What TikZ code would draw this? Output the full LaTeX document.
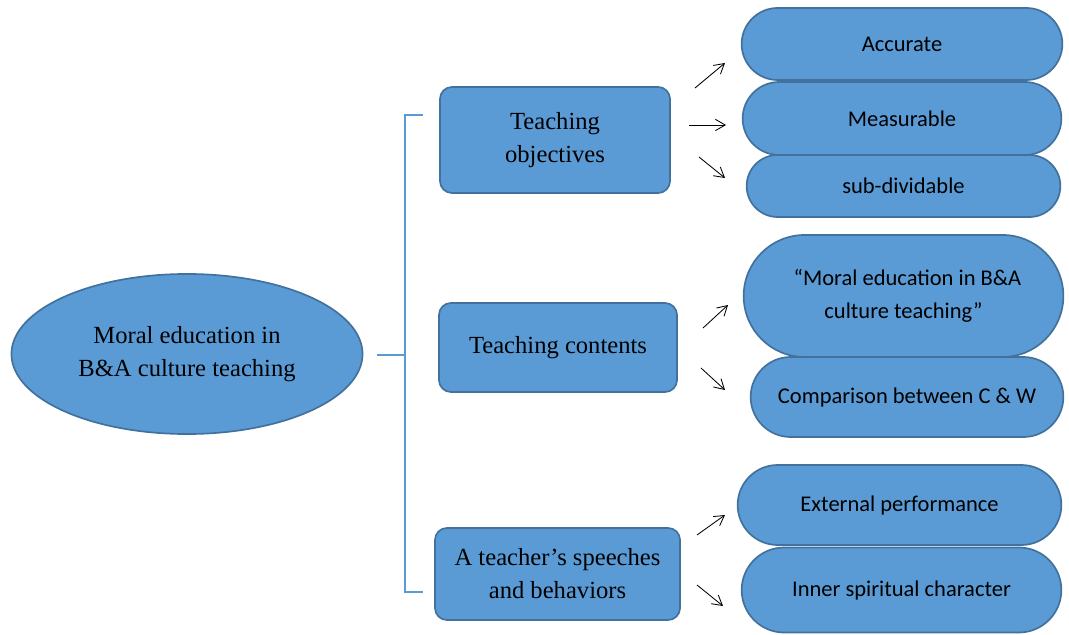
\documentclass[tikz,border=0pt]{standalone}
\usepackage{fontspec}
\setmainfont{Liberation Serif}
\newfontfamily\pillfont{Carlito}
\usepackage{tikz}
\usetikzlibrary{shapes.geometric,shapes.misc,arrows.meta}

\definecolor{boxblue}{HTML}{5B9BD5}
\definecolor{boxedge}{HTML}{41719C}

\tikzset{
	topic/.style={ellipse,draw=boxedge,fill=boxblue,line width=1.2pt,align=center,
		minimum width=8.775cm,minimum height=4cm,font=\fontsize{17.5}{23.5}\selectfont},
	part/.style={rectangle,rounded corners=0.3cm,draw=boxedge,fill=boxblue,line width=1.2pt,
		align=center,font=\fontsize{17.5}{23.5}\selectfont},
	pill/.style={rounded rectangle,draw=boxedge,fill=boxblue,line width=1.2pt,
		align=center,font=\pillfont\fontsize{16}{23.5}\selectfont},
	arr/.style={-{Straight Barb[angle=60:8pt]},line width=0.6pt},
	brace/.style={draw=boxblue,line width=1.4pt}
}

\begin{document}
\begin{tikzpicture}[x=0.025cm,y=-0.025cm]
	\useasboundingbox (0,0) rectangle (1069,635);
	
	% main topic and the three parts
	\node[topic] (moral) at (187,354) {Moral education in\\B\&A culture teaching};
	
	\node[part,minimum width=5.75cm,minimum height=2.65cm] (obj) at (555,140) {Teaching\\objectives};
	\node[part,minimum width=5.95cm,minimum height=2.225cm] (cont) at (558,347.5) {Teaching contents};
	\node[part,minimum width=6.125cm,minimum height=2.3cm] (beh) at (557.5,574) {A teacher’s speeches\\and behaviors};
	
	% brace
	\coordinate (br0) at (377,355);
	\coordinate (brm) at (405,355);
	\coordinate (brt) at (405,115);
	\coordinate (brb) at (405,592);
	\coordinate (brt1) at (423,115);
	\coordinate (brb1) at (423,592);
	\draw[brace] (br0) -- (brm);
	\draw[brace] (brt1) -- (brt) -- (brb) -- (brb1);
	
	% leaves
	\node[pill,minimum width=8.25cm,minimum height=1.8cm] (acc) at (902,44) {Accurate};
	\node[pill,minimum width=8.2cm,minimum height=1.825cm] (meas) at (902,118.5) {Measurable};
	\node[pill,minimum width=8.075cm,minimum height=1.55cm] (sub) at (903.5,186) {sub-dividable};
	
	\node[pill,minimum width=8.225cm,minimum height=3.05cm] (quote) at (903.5,296) {\hspace*{0.2cm}“Moral education in B\&A\\culture teaching”};
	\node[pill,minimum width=8.05cm,minimum height=2cm] (comp) at (907,397) {Comparison between C \& W};
	
	\node[pill,minimum width=8.325cm,minimum height=2cm] (ext) at (899.5,505) {External performance};
	\node[pill,minimum width=8.225cm,minimum height=2.125cm] (inner) at (901.5,590) {Inner spiritual character};
	
	% arrows
	\coordinate (a1) at (695,88);  \coordinate (a1e) at (725,63);
	\coordinate (a2) at (689,125); \coordinate (a2e) at (726,125);
	\coordinate (a3) at (699,157); \coordinate (a3e) at (725,178);
	\coordinate (b1) at (703,328); \coordinate (b1e) at (728,305);
	\coordinate (b2) at (701,368); \coordinate (b2e) at (725,390);
	\coordinate (c1) at (697,535); \coordinate (c1e) at (725,515);
	\coordinate (c2) at (697,585); \coordinate (c2e) at (723,606);
	\draw[arr] (a1) -- (a1e);
	\draw[arr] (a2) -- (a2e);
	\draw[arr] (a3) -- (a3e);
	\draw[arr] (b1) -- (b1e);
	\draw[arr] (b2) -- (b2e);
	\draw[arr] (c1) -- (c1e);
	\draw[arr] (c2) -- (c2e);
\end{tikzpicture}
\end{document}
